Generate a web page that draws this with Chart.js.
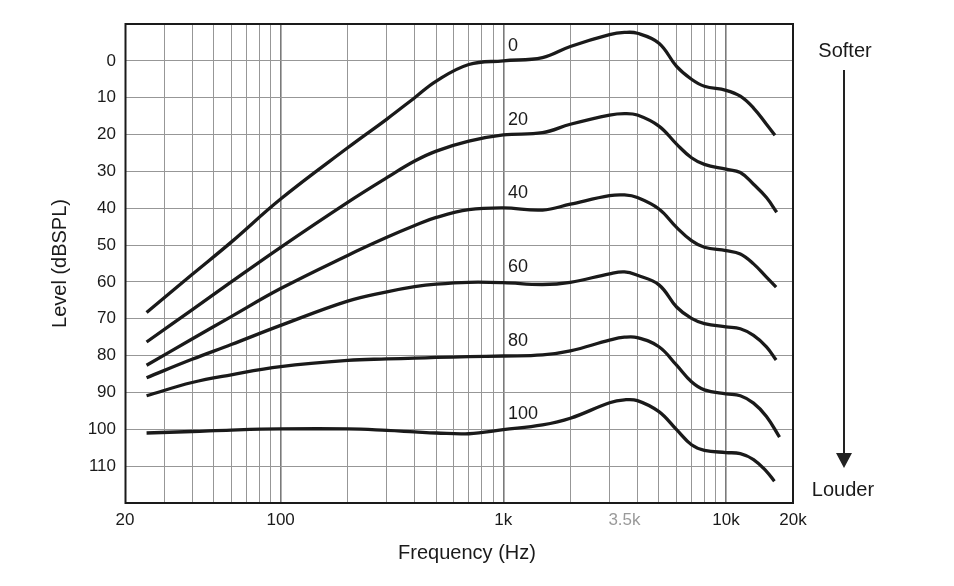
<!DOCTYPE html>
<html>
<head>
<meta charset="utf-8">
<script src="https://cdn.jsdelivr.net/npm/chart.js@4.4.1/dist/chart.umd.min.js"></script>
<style>
  html, body { margin: 0; padding: 0; background: #ffffff; }
  #wrap { width: 954px; height: 586px; position: relative; }
</style>
</head>
<body>
<div id="wrap"><canvas id="c" width="954" height="586"></canvas></div>
<script>
// ---- data ----
const freqHz = [25, 40, 60, 100, 200, 300, 400, 500, 700, 1000, 1500, 2000, 3000, 3500, 4000,
                5000, 6000, 7000, 8000, 10000, 11600, 13300, 15200];
const curveNames = ['0', '20', '40', '60', '80', '100'];
const curveNominal = [0, 20, 40, 60, 80, 100];
const endHz = [16600, 16900, 16800, 16800, 17400, 16500];

const level0   = [68.3, 58, 49.2, 37.5, 23.6, 15.8, 10, 5.5, 1, 0, -0.9, -3.9, -7.1, -7.7, -7.5,
                  -4.8, 1.5, 5, 6.9, 8, 9.6, 12.8, 17.2, 20.2];
const level20  = [76.3, 67.6, 60.0, 50.6, 38.4, 31.7, 27.2, 24.5, 21.8, 20.1, 19.5, 17.2, 14.7, 14.3, 14.7,
                  17.7, 22.6, 26.3, 28.1, 29.4, 30.3, 33.5, 37.1, 41.1];
const level40  = [82.6, 75.5, 69.4, 61.8, 52.8, 47.9, 44.7, 42.5, 40.4, 39.9, 40.5, 38.9, 36.6, 36.4, 37.1,
                  40.2, 45.2, 48.8, 50.6, 51.5, 52.4, 55.1, 58.7, 61.4];
const level60  = [86, 81, 77, 71.8, 65.2, 62.7, 61.3, 60.6, 60.1, 60.2, 60.7, 60.1, 57.8, 57.3, 58.2,
                  60.8, 66.8, 69.9, 71.3, 72.2, 72.7, 74.5, 77.6, 81.2];
const level80  = [90.9, 87.3, 85.2, 83.0, 81.3, 80.9, 80.7, 80.5, 80.3, 80.1, 79.8, 78.7, 75.8, 75, 75.1,
                  77.6, 82.6, 87.1, 89.3, 90.4, 90.9, 92.9, 96.5, 102.1];
const level100 = [101, 100.6, 100.2, 99.9, 99.9, 100.3, 100.7, 101, 101.2, 100.1, 98.8, 97, 92.8, 92, 92.2,
                  95.2, 100.1, 104.2, 105.7, 106.3, 106.6, 108.2, 111.4, 114.1];
const levels = [level0, level20, level40, level60, level80, level100];

const xGridHz = [20, 30, 40, 50, 60, 70, 80, 90, 100, 200, 300, 400, 500, 600, 700, 800, 900,
                 1000, 2000, 3000, 3500, 4000, 5000, 6000, 7000, 8000, 9000, 10000, 20000];
const xTickLabels = {20: '20', 100: '100', 1000: '1k', 3500: '3.5k', 10000: '10k', 20000: '20k'};
const yTickValues = [0, 10, 20, 30, 40, 50, 60, 70, 80, 90, 100, 110];

// ---- build datasets ----
const FONT = "'Liberation Sans', Arial, Helvetica, sans-serif";
const INK = '#1a1a1a';
const datasets = levels.map((arr, i) => ({
  label: curveNames[i],
  data: arr.map((v, j) => ({ x: j < freqHz.length ? freqHz[j] : endHz[i], y: v })),
  borderColor: INK,
  borderWidth: 3.3,
  borderCapStyle: 'butt',
  borderJoinStyle: 'round',
  pointRadius: 0,
  fill: false,
  tension: 0.4
}));

const decade = v => [100, 1000, 10000].includes(v);

const annotate = {
  id: 'annotate',
  beforeDatasetsDraw(chart) {
    const { ctx, chartArea: a } = chart;
    ctx.save();
    ctx.strokeStyle = INK;
    ctx.lineWidth = 2;
    ctx.strokeRect(a.left + 0.5, a.top, a.right - a.left - 0.5, a.bottom - a.top);
    ctx.restore();
  },
  afterDatasetsDraw(chart) {
    const { ctx } = chart;
    const xs = chart.scales.x, ys = chart.scales.y;
    ctx.save();
    ctx.fillStyle = INK;
    ctx.font = "18px " + FONT;
    ctx.textAlign = 'left';
    ctx.textBaseline = 'middle';
    curveNames.forEach((name, i) => {
      ctx.fillText(name, xs.getPixelForValue(1050), ys.getPixelForValue(curveNominal[i]) - 15);
    });
    // axis title (x)
    ctx.font = "20px " + FONT;
    ctx.textAlign = 'center';
    ctx.fillText('Frequency (Hz)', 467, 553);
    // Softer / Louder arrow
    ctx.fillText('Softer', 845, 51);
    ctx.fillText('Louder', 843, 490);
    ctx.strokeStyle = '#222';
    ctx.lineWidth = 2;
    ctx.beginPath();
    ctx.moveTo(844, 70);
    ctx.lineTo(844, 458);
    ctx.stroke();
    ctx.fillStyle = '#222';
    ctx.beginPath();
    ctx.moveTo(836, 453);
    ctx.lineTo(852, 453);
    ctx.lineTo(844, 468);
    ctx.closePath();
    ctx.fill();
    ctx.restore();
  }
};

new Chart(document.getElementById('c'), {
  type: 'line',
  data: { datasets },
  plugins: [annotate],
  options: {
    responsive: false,
    animation: false,
    events: [],
    layout: { padding: { top: 24, right: 161, bottom: 0, left: 0 } },
    plugins: { legend: { display: false }, tooltip: { enabled: false }, title: { display: false } },
    scales: {
      x: {
        type: 'logarithmic',
        min: 20,
        max: 20000,
        afterBuildTicks: s => { s.ticks = xGridHz.map(v => ({ value: v })); },
        afterFit: s => { s.height = 83; },
        border: { display: false },
        grid: {
          drawTicks: false,
          color: c => (c.tick && c.tick.value === 3500) ? 'rgba(0,0,0,0)' : (decade(c.tick && c.tick.value) ? '#7a7a7a' : '#979797'),
          lineWidth: c => decade(c.tick && c.tick.value) ? 1.6 : 1
        },
        ticks: {
          autoSkip: false,
          maxRotation: 0,
          padding: 7,
          font: { size: 17, family: FONT },
          color: c => (c.tick && c.tick.value === 3500) ? '#9a9a9a' : INK,
          callback: v => xTickLabels[v] || ''
        }
      },
      y: {
        type: 'linear',
        reverse: true,
        min: -10,
        max: 120,
        afterBuildTicks: s => { s.ticks = [-10].concat(yTickValues, [120]).map(v => ({ value: v })); },
        afterFit: s => { s.width = 125; },
        border: { display: false },
        grid: { drawTicks: false, color: '#979797', lineWidth: 1 },
        ticks: {
          padding: 9,
          font: { size: 17, family: FONT },
          color: INK,
          callback: v => yTickValues.includes(v) ? String(v) : ''
        },
        title: {
          display: true,
          text: 'Level (dBSPL)',
          color: INK,
          font: { size: 20, family: FONT },
          padding: { top: 48, bottom: 0 }
        }
      }
    }
  }
});
</script>
</body>
</html>
